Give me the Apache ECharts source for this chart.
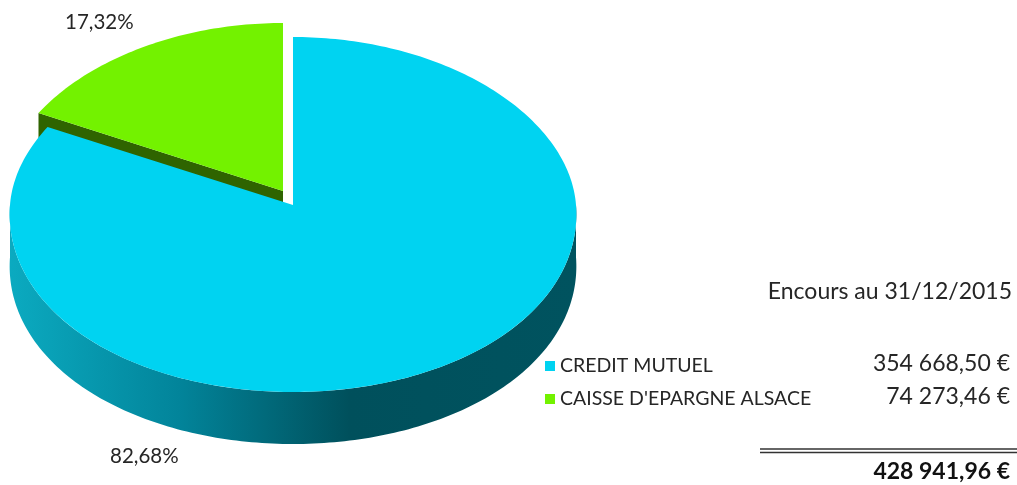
<!DOCTYPE html>
<html><head><meta charset="utf-8">
<script src="https://cdn.jsdelivr.net/npm/echarts@6/dist/echarts.min.js"></script>
<style>html,body{margin:0;padding:0;background:#fff}#c{width:1017px;height:485px}</style>
</head><body><div id="c"></div>
<script>
const categories = ['CREDIT MUTUEL', "CAISSE D'EPARGNE ALSACE"];
const amounts = [354668.50, 74273.46];
const titleText = 'Encours au 31/12/2015';

const topColors = ['#00D3F1', '#73F200'];
const cutColors = ['#006C7C', '#2F6400'];
const explode = [0, 1];
const FONT = 'Lato';
const TXT = '#262626';

const total = amounts.reduce((a, b) => a + b, 0);
function fmtEuro(v) {
  const s = v.toFixed(2).split('.');
  const ip = s[0].replace(/\B(?=(\d{3})+(?!\d))/g, ' ');
  return ip + ',' + s[1] + ' €';
}
function fmtPct(v) { return (v * 100).toFixed(2).replace('.', ',') + '%'; }

const G = { cx: 293, cy: 205, rx: 283, ryTop: 168, ryBot: 187, depth: 52, exX: -10, exY: -14, persp: 0.05 };
function P(t, ox, oy, dz) {
  const c = Math.cos(t), s = Math.sin(t);
  const y = G.cy + oy - (c >= 0 ? G.ryTop : G.ryBot) * c;
  const k = 1 + G.persp * (y - G.cy) / G.ryBot;
  return [G.cx + ox + G.rx * s * k, y + dz];
}
function arc(a0, a1, ox, oy, dz) {
  const pts = [];
  const n = Math.max(2, Math.ceil((a1 - a0) / (Math.PI / 180)));
  for (let k = 0; k <= n; k++) pts.push(P(a0 + (a1 - a0) * k / n, ox, oy, dz));
  return pts;
}
const starts = [];
let acc = 0;
amounts.forEach(v => { starts.push(acc); acc += v; });

function renderItem(params, api) {
  const i = params.seriesIndex;
  const v = api.value(0);
  const a0 = starts[i] / total * Math.PI * 2;
  const a1 = a0 + v / total * Math.PI * 2;
  const ox = explode[i] ? G.exX : 0, oy = explode[i] ? G.exY : 0;
  const children = [];
  const c0 = [G.cx + ox, G.cy + oy];
  if (i === 1) {
    const pa = P(a0, ox, oy, 0);
    children.push({ type: 'polygon', shape: { points: [c0, pa, [pa[0], pa[1] + G.depth], [c0[0], c0[1] + G.depth]] },
      style: { fill: cutColors[i] } });
  }
  const f0 = Math.max(a0, Math.PI / 2), f1 = Math.min(a1, Math.PI * 1.5);
  if (f1 > f0) {
    const topPts = arc(f0, f1, ox, oy, 0);
    const botPts = arc(f0, f1, ox, oy, G.depth).reverse();
    children.push({ type: 'polygon', shape: { points: topPts.concat(botPts) },
      style: { fill: new echarts.graphic.LinearGradient(G.cx - G.rx, 0, G.cx + G.rx, 0, [
        { offset: 0, color: '#0BAAC0' }, { offset: 0.3, color: '#02849A' },
        { offset: 0.6, color: '#00505C' }, { offset: 1, color: '#00535F' }], true) } });
  }
  children.push({ type: 'polygon', shape: { points: [c0].concat(arc(a0, a1, ox, oy, 0)) },
    style: { fill: topColors[i] } });
  return { type: 'group', children: children };
}

const series = categories.map((name, i) => ({
  type: 'custom', name: name, coordinateSystem: 'none', renderItem: renderItem,
  data: [[amounts[i]]], itemStyle: { color: topColors[i] }, z: i === 1 ? 1 : 2, silent: true
}));

function txt(text, x, y, size, align, weight, fill) {
  return { type: 'text', x: x, y: y, style: { text: text, fontFamily: FONT, fontSize: size, fontWeight: weight || 'normal',
    fill: fill || TXT, align: align || 'left', verticalAlign: 'middle' } };
}
const graphics = [
  txt(fmtPct(amounts[1] / total), 65, 22, 20.5),
  txt(fmtPct(amounts[0] / total), 110, 456, 20.5),
  txt(titleText, 1012, 292, 23, 'right'),
  txt(fmtEuro(amounts[0]), 1010, 364, 23, 'right'),
  txt(fmtEuro(amounts[1]), 1010, 397, 23, 'right'),
  { type: 'line', shape: { x1: 760, y1: 449, x2: 1017, y2: 449 }, style: { stroke: '#333', lineWidth: 1.3 } },
  { type: 'line', shape: { x1: 760, y1: 452.5, x2: 1017, y2: 452.5 }, style: { stroke: '#333', lineWidth: 1.3 } },
  txt(fmtEuro(total), 1010, 472, 23, 'right', 'bold', '#111')
];

const chart = echarts.init(document.getElementById('c'), null, { renderer: 'canvas' });
chart.setOption({
  backgroundColor: '#fff',
  animation: false,
  legend: {
    orient: 'vertical', left: 540, top: 351, icon: 'rect', itemWidth: 10, itemHeight: 10, itemGap: 13,
    selectedMode: false,
    data: categories,
    textStyle: { fontFamily: FONT, fontSize: 19.5, color: TXT, lineHeight: 20 }
  },
  series: series,
  graphic: graphics
});
</script></body></html>
